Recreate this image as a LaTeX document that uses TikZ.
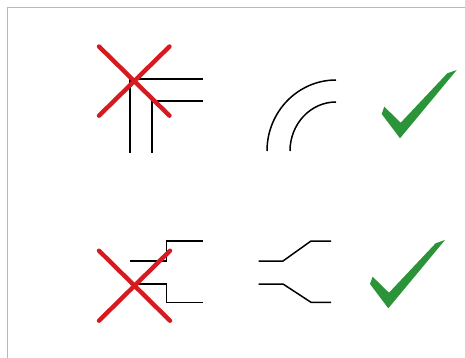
\documentclass[tikz,border=0pt]{standalone}
\begin{document}
\begin{tikzpicture}[x=1pt,y=-1pt,
  frameline/.style={draw=black!28,line width=1.3pt},
  wire/.style={draw=black,line width=1.5pt},
  cross/.style={draw=redx,line width=4.4pt,line cap=round},
  checkfill/.style={fill=greencheck,draw=none}]
\definecolor{redx}{RGB}{214,26,31}
\definecolor{greencheck}{RGB}{43,148,56}
\useasboundingbox (0,0) rectangle (465,358);
% frame
\draw[frameline] (7.7,358) -- (7.7,7.3) -- (465,7.3);
% top-left: sharp corner
\draw[wire] (130,153) -- (130,79) -- (203,79);
\draw[wire] (152,153) -- (152,101) -- (203,101);
\draw[cross] (99,46.5) -- (169.5,115.7);
\draw[cross] (169.5,46.5) -- (99,115.7);
% top-middle: arcs
\draw[wire] (267,151) arc[start angle=180,end angle=90,x radius=69,y radius=-71];
\draw[wire] (290,151) arc[start angle=180,end angle=90,x radius=46,y radius=-49];
% top check
\fill[checkfill,shift={(400,138.3)}] (-15.7,-31.6) -- (0.7,-15.6) -- (47.3,-65) -- (56.7,-68.3) -- (0,0) -- (-18.3,-24.3) -- cycle;
% bottom-left: stepped
\draw[wire] (130,261) -- (166.5,261) -- (166.5,241) -- (203,241);
\draw[wire] (130,284) -- (166.5,284) -- (166.5,302.3) -- (203,302.3);
\draw[cross] (99,250.7) -- (170,320.7);
\draw[cross] (170,250.7) -- (99,320.7);
% bottom-middle: tapered
\draw[wire] (258.5,261) -- (283,261) -- (311,241) -- (331,241);
\draw[wire] (258.5,284) -- (283,284) -- (311,302.3) -- (331,302.3);
% bottom check
\fill[checkfill,shift={(388.3,308.3)}] (-15.7,-31.6) -- (0.7,-15.6) -- (47.3,-65) -- (56.7,-68.3) -- (0,0) -- (-18.3,-24.3) -- cycle;
\end{tikzpicture}
\end{document}
